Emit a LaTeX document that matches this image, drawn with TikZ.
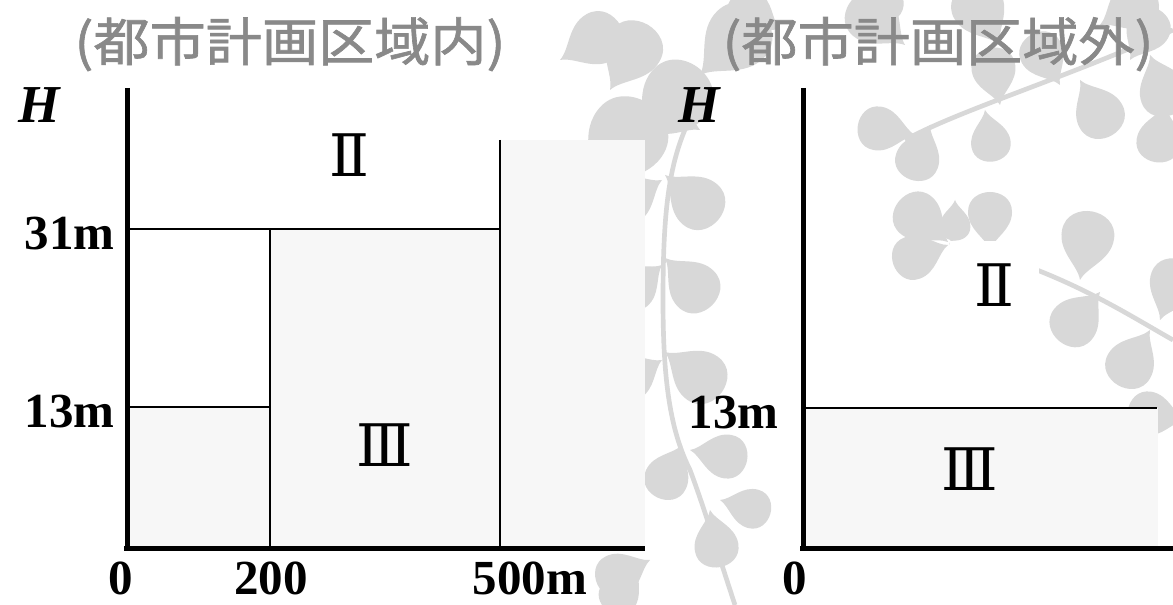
\documentclass[tikz,border=0pt]{standalone}
\usepackage{fontspec}
\setmainfont{Liberation Serif}
\newfontfamily\jpfont[FakeBold=1.2]{Noto Sans CJK JP}
\newfontfamily\romfont{DejaVu Serif}
\definecolor{titlegray}{RGB}{137,137,137}
\definecolor{leafgray}{RGB}{216,216,216}
\definecolor{zonefill}{RGB}{247,247,247}

\begin{document}
\begin{tikzpicture}[x=0.75pt,y=-0.75pt,
  axis/.style={line width=3.75pt},
  divider/.style={line width=1.1pt},
  zone/.style={fill=zonefill},
  title/.style={text=titlegray, inner sep=0, anchor=base,
    font=\jpfont\fontsize{39}{39}\selectfont},
  label/.style={inner sep=0, font=\bfseries\fontsize{36.75}{36.75}\selectfont},
  axisname/.style={inner sep=0, anchor=base,
    font=\bfseries\itshape\fontsize{40}{40}\selectfont},
  zonename/.style={inner sep=0, font=\romfont\fontsize{44}{44}\selectfont},
  stem/.style={draw=leafgray, line width=3.5pt},
  leaf/.pic={\fill[leafgray] (0,0) .. controls (12,-4) and (20,-22) .. (38,-22)
      .. controls (52,-22) and (58,-10) .. (58,0)
      .. controls (58,10) and (52,22) .. (38,22)
      .. controls (20,22) and (12,4) .. (0,0);}
]
\useasboundingbox (0,0) rectangle (1173,605);
\fill[white] (0,0) rectangle (1173,605);

% ---- leafy background pattern ----
\draw[stem] (700,100) .. controls (670,150) and (663,200) .. (663,300)
  .. controls (663,380) and (670,430) .. (690,470)
  .. controls (705,510) and (720,560) .. (735,605);
\draw[stem] (905,140) .. controls (960,110) and (1060,80) .. (1173,30);
\draw[stem] (1173,340) .. controls (1120,310) and (1060,270) .. (950,242);
\foreach \x/\y/\a/\s in {
  665/175/-40/1.2, 662/180/-150/1.1, 665/258/-45/1.15, 662/265/-140/1.0,
  665/352/-35/1.2, 662/360/-150/1.0, 682/445/-115/1.0, 690/450/-10/1.0,
  710/510/-80/1.0, 720/500/-15/0.9, 650/560/-155/1.0, 640/570/-130/0.9,
  700/130/150/1.1,
  590/190/55/1.8, 640/140/50/1.6, 700/75/45/1.5, 610/90/60/1.3, 560/60/30/1.2,
  850/20/30/1.0, 780/30/150/1.0,
  915/135/170/1.0, 930/125/-110/1.0, 985/110/-80/0.9, 1000/105/100/1.0,
  1060/85/120/1.0, 1080/80/-60/1.1, 1130/60/60/1.0, 1150/55/-70/1.1,
  1000/45/120/1.2, 905/45/140/1.2, 1100/25/30/1.1, 1165/105/-100/1.0,
  948/242/140/1.1, 948/245/-160/1.0, 990/250/90/1.0, 1080/280/80/1.2,
  1100/292/-130/1.1, 1150/330/-120/1.1, 1160/320/70/1.1, 1185/420/170/1.0,
  955/200/-90/0.7}
  \pic[rotate=\a, scale=\s] at (\x,\y) {leaf};

% ---- key points of the two charts ----
\coordinate (LO) at (127,548);   % left origin
\coordinate (LT) at (127,88);    % left axis top
\coordinate (LE) at (645,548);   % left axis end
\coordinate (L13) at (127,407);
\coordinate (L31) at (127,229);
\coordinate (A13) at (270,407);
\coordinate (A31) at (270,229);
\coordinate (A0) at (270,548);
\coordinate (B31) at (500,229);
\coordinate (BT) at (500,140);
\coordinate (B0) at (500,548);
\coordinate (RO) at (803,548);   % right origin
\coordinate (RT) at (803,88);
\coordinate (RE) at (1173,548);
\coordinate (R13) at (803,408);
\coordinate (R13e) at (1157,408);

% ---- shaded zones ----
\fill[zone] (L13) rectangle (A0);
\fill[zone] (A31) rectangle (B0);
\fill[zone] (BT) rectangle (LE);
\fill[zone] (R13) rectangle (1158,546);
\fill[white] (950,241) rectangle (1039,348);

% ---- zone boundaries ----
\draw[divider] (L31) -- (B31);
\draw[divider] (L13) -- (A13);
\draw[divider] (A31) -- (A0);
\draw[divider] (BT) -- (B0);
\draw[divider] (R13) -- (R13e);

% ---- axes ----
\draw[axis] (LT) -- ([yshift=-1.9pt]LO) ;
\draw[axis] ([xshift=-1.9pt]LO) -- (LE);
\draw[axis] (RT) -- ([yshift=-1.9pt]RO);
\draw[axis] ([xshift=-1.9pt]RO) -- (RE);

% ---- titles ----
\node[title] (t1) at (290,61) {\scalebox{1.08}[1]{(都市計画区域内)}};
\node[title] (t2) at (938,61) {\scalebox{1.08}[1]{(都市計画区域外)}};

% ---- axis labels ----
\node[axisname] (h1) at (39,123) {H};
\node[axisname] (h2) at (699,123) {H};
\node[label, anchor=base east] (y31) at (115,250) {31m};
\node[label, anchor=base east] (y13) at (115,427) {13m};
\node[label, anchor=base east] (ry13) at (779,428) {13m};
\node[label, anchor=base] (x0) at (121,594) {0};
\node[label, anchor=base] (x200) at (271,594) {200};
\node[label, anchor=base] (x500) at (530,594) {500m};
\node[label, anchor=base] (rx0) at (795,594) {0};

% ---- zone names ----
\node[zonename] (z2l) at (349,155) {Ⅱ};
\node[zonename] (z3l) at (385,445) {Ⅲ};
\node[zonename] (z2r) at (994,285) {Ⅱ};
\node[zonename] (z3r) at (970,469) {Ⅲ};
\end{tikzpicture}
\end{document}
